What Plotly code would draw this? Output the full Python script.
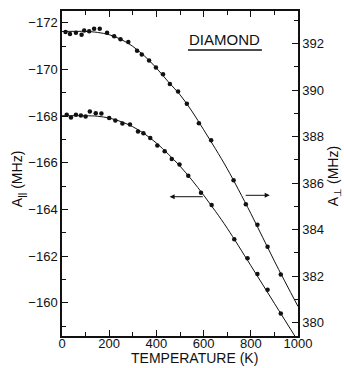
import plotly.graph_objects as go

# Measured hyperfine constants of diamond vs temperature
t_par = [20, 38, 59, 80, 100, 118, 143, 167, 200, 226, 256, 288, 322, 345, 374,
         404, 435, 465, 498, 535, 589, 634, 730, 786, 828, 871, 927]
a_par = [-168.06, -167.95, -168.06, -168.03, -167.99, -168.20, -168.13, -168.12,
         -167.92, -167.82, -167.69, -167.65, -167.35, -167.27, -167.07, -166.75,
         -166.50, -166.17, -165.93, -165.45, -164.72, -164.20, -162.73, -161.91,
         -161.24, -160.56, -159.54]

t_perp = [15, 34, 59, 83, 94, 115, 136, 160, 191, 221, 248, 281, 318, 338, 369,
          398, 428, 457, 492, 529, 580, 632, 727, 779, 828, 871, 927]
a_perp = [392.50, 392.41, 392.46, 392.38, 392.56, 392.53, 392.64, 392.64, 392.46,
          392.32, 392.19, 392.07, 391.69, 391.53, 391.27, 390.97, 390.68, 390.26,
          389.94, 389.41, 388.58, 387.84, 386.12, 385.09, 384.21, 383.27, 382.07]

# Fitted curves
t_fit = [0, 100, 150, 200, 250, 300, 350, 400, 450, 500, 550, 600, 650, 700, 800, 900, 1000]
fit_par = [-168.02, -168.02, -168.00, -167.92, -167.77, -167.55, -167.24, -166.85,
           -166.38, -165.86, -165.27, -164.62, -163.93, -163.20, -161.60, -159.98, -158.36]
fit_perp = [392.52, 392.52, 392.48, 392.38, 392.18, 391.88, 391.46, 390.95, 390.36,
            389.80, 389.10, 388.30, 387.48, 386.62, 384.70, 382.65, 380.70]

x_ticks = [0, 200, 400, 600, 800, 1000]
y_left_ticks = [-172, -170, -168, -166, -164, -162, -160]
y_right_ticks = [380, 382, 384, 386, 388, 390, 392]

FONT = "Liberation Sans"
BLACK = "#111111"

fig = go.Figure()
fig.add_trace(go.Scatter(x=t_fit, y=fit_par, mode="lines", line=dict(color=BLACK, width=1, shape="spline"),
                         yaxis="y", hoverinfo="skip"))
fig.add_trace(go.Scatter(x=t_par, y=a_par, mode="markers", marker=dict(color=BLACK, size=4.5),
                         yaxis="y", name="A∥"))
fig.add_trace(go.Scatter(x=t_fit, y=fit_perp, mode="lines", line=dict(color=BLACK, width=1, shape="spline"),
                         yaxis="y2", hoverinfo="skip"))
fig.add_trace(go.Scatter(x=t_perp, y=a_perp, mode="markers", marker=dict(color=BLACK, size=4.5),
                         yaxis="y2", name="A⊥"))

axis_common = dict(showline=True, linecolor=BLACK, linewidth=1.5, ticks="inside", ticklen=6,
                   tickwidth=1.2, tickcolor=BLACK, showgrid=False, zeroline=False,
                   tickfont=dict(family=FONT, size=13, color=BLACK))

fig.update_layout(
    width=344, height=368,
    margin=dict(l=62, r=46, t=9, b=32),
    paper_bgcolor="white", plot_bgcolor="white",
    showlegend=False,
    xaxis=dict(range=[0, 1000], tickvals=x_ticks, mirror="ticks", ticklabelstandoff=-5,
               minor=dict(ticks="inside", ticklen=4, dtick=100, tickcolor=BLACK, tickwidth=1.2),
               **axis_common),
    yaxis=dict(range=[-158.58, -172.51], tickvals=y_left_ticks,
               minor=dict(ticks="inside", ticklen=4, dtick=1, tickcolor=BLACK, tickwidth=1.2),
               **axis_common),
    yaxis2=dict(range=[379.43, 393.40], tickvals=y_right_ticks, overlaying="y", side="right",
                minor=dict(ticks="inside", ticklen=4, dtick=1, tickcolor=BLACK, tickwidth=1.2),
                **axis_common),
)

# Axis titles
fig.add_annotation(text="TEMPERATURE (K)", xref="paper", yref="paper", x=0.56, y=-0.067,
                   xanchor="center", yanchor="middle",
                   showarrow=False, font=dict(family=FONT, size=14, color=BLACK))
fig.add_annotation(text="A<sub>||</sub> (MHz)", xref="paper", yref="paper", x=-0.186, y=0.483,
                   xanchor="center", yanchor="middle",
                   textangle=-90, showarrow=False, font=dict(family=FONT, size=14, color=BLACK))
fig.add_annotation(text="A<sub>⊥</sub> (MHz)", xref="paper", yref="paper", x=1.153, y=0.492,
                   xanchor="center", yanchor="middle",
                   textangle=-90, showarrow=False, font=dict(family=FONT, size=14, color=BLACK))

# Sample label with underline
fig.add_annotation(text="DIAMOND", xref="x", yref="paper", x=690, y=0.913,
                   xanchor="center", yanchor="middle",
                   showarrow=False, font=dict(family=FONT, size=15, color=BLACK))
fig.add_shape(type="line", xref="x", yref="paper", x0=534, x1=847, y0=0.880, y1=0.880,
              line=dict(color=BLACK, width=1.5))

# Arrows pointing each curve to its axis
fig.add_annotation(x=456, y=-164.55, ax=603, ay=-164.55, xref="x", yref="y", axref="x", ayref="y",
                   text="", showarrow=True, arrowhead=2, arrowsize=1, arrowwidth=1, arrowcolor=BLACK)
fig.add_annotation(x=880, y=-164.61, ax=772, ay=-164.61, xref="x", yref="y", axref="x", ayref="y",
                   text="", showarrow=True, arrowhead=2, arrowsize=1, arrowwidth=1, arrowcolor=BLACK)

fig.write_html("out.html")
